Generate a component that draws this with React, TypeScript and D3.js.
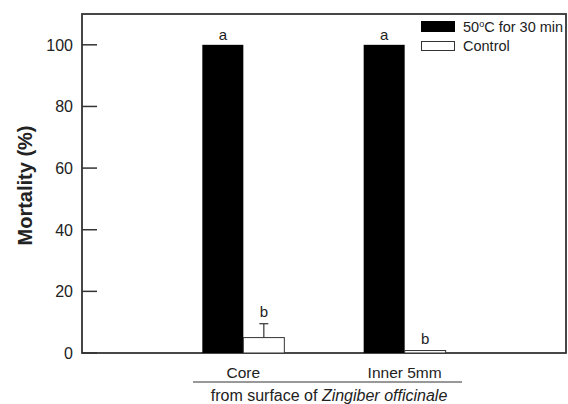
import React from "react";
import * as d3 from "d3";

const categories = ["Core", "Inner 5mm"];
const treatedValues = [100, 100];
const controlValues = [5, 0.8];
const controlErrors = [4.5, 0];
const treatedLetters = ["a", "a"];
const controlLetters = ["b", "b"];
const yTicks = [0, 20, 40, 60, 80, 100];

const W = 568;
const H = 404;
const left = 82;
const right = 566;
const top = 14;
const bottom = 353;
const font = "Liberation Sans, Arial, sans-serif";

export default function App() {
  const y = d3.scaleLinear().domain([0, 110]).range([bottom, top]);
  const x = d3.scalePoint<string>().domain(categories).range([left, right]).padding(1);
  const bw = 41;

  return (
    <svg width={W} height={H} style={{ position: "absolute", left: 0, top: 0, background: "#fff" }} fontFamily={font}>
      {/* frame */}
      <rect x={left} y={top} width={right - left} height={bottom - top} fill="none" stroke="#333" strokeWidth={1.8} />
      {/* y ticks */}
      {yTicks.map((t) => (
        <g key={t}>
          <line x1={left} x2={left + 15} y1={y(t)} y2={y(t)} stroke="#333" strokeWidth={1.5} />
          <text x={73} y={y(t) + 6} textAnchor="end" fontSize={16} fill="#222">{t}</text>
        </g>
      ))}
      <text transform={`translate(32,${(top + bottom) / 2 + 2}) rotate(-90)`} textAnchor="middle" fontSize={20} fontWeight="bold" fill="#222">Mortality (%)</text>
      {categories.map((c, i) => {
        const cx = x(c)!;
        const tv = treatedValues[i];
        const cv = controlValues[i];
        const ce = controlErrors[i];
        return (
          <g key={c}>
            <rect x={cx - bw} y={y(tv)} width={bw} height={bottom - y(tv)} fill="#000" />
            <rect x={cx} y={y(cv)} width={bw} height={bottom - y(cv)} fill="#fff" stroke="#333" strokeWidth={1} />
            {ce > 0 && (
              <g stroke="#333" strokeWidth={1.2}>
                <line x1={cx + bw / 2} x2={cx + bw / 2} y1={y(cv)} y2={y(cv + ce)} />
                <line x1={cx + bw / 2 - 4.5} x2={cx + bw / 2 + 4.5} y1={y(cv + ce)} y2={y(cv + ce)} />
              </g>
            )}
            <text x={cx - bw / 2} y={y(tv) - 5} textAnchor="middle" fontSize={15} fill="#222">{treatedLetters[i]}</text>
            <text x={cx + bw / 2} y={y(cv + ce) - 7} textAnchor="middle" fontSize={15} fill="#222">{controlLetters[i]}</text>
            <text x={cx} y={378} textAnchor="middle" fontSize={15.5} fill="#222">{c}</text>
          </g>
        );
      })}
      <line x1={193} x2={462} y1={382} y2={382} stroke="#333" strokeWidth={1} />
      <text x={329} y={401} textAnchor="middle" fontSize={16} fill="#222">
        from surface of <tspan fontStyle="italic">Zingiber officinale</tspan>
      </text>
      {/* legend */}
      <rect x={421} y={21} width={34} height={11} fill="#000" />
      <text x={463} y={32} fontSize={14.5} fill="#222">
        50<tspan dy={-5} fontSize={9}>o</tspan><tspan dy={5}>C for 30 min</tspan>
      </text>
      <rect x={421.5} y={41.5} width={33} height={9} fill="#fff" stroke="#333" strokeWidth={1} />
      <text x={463} y={51} fontSize={14.5} fill="#222">Control</text>
    </svg>
  );
}
